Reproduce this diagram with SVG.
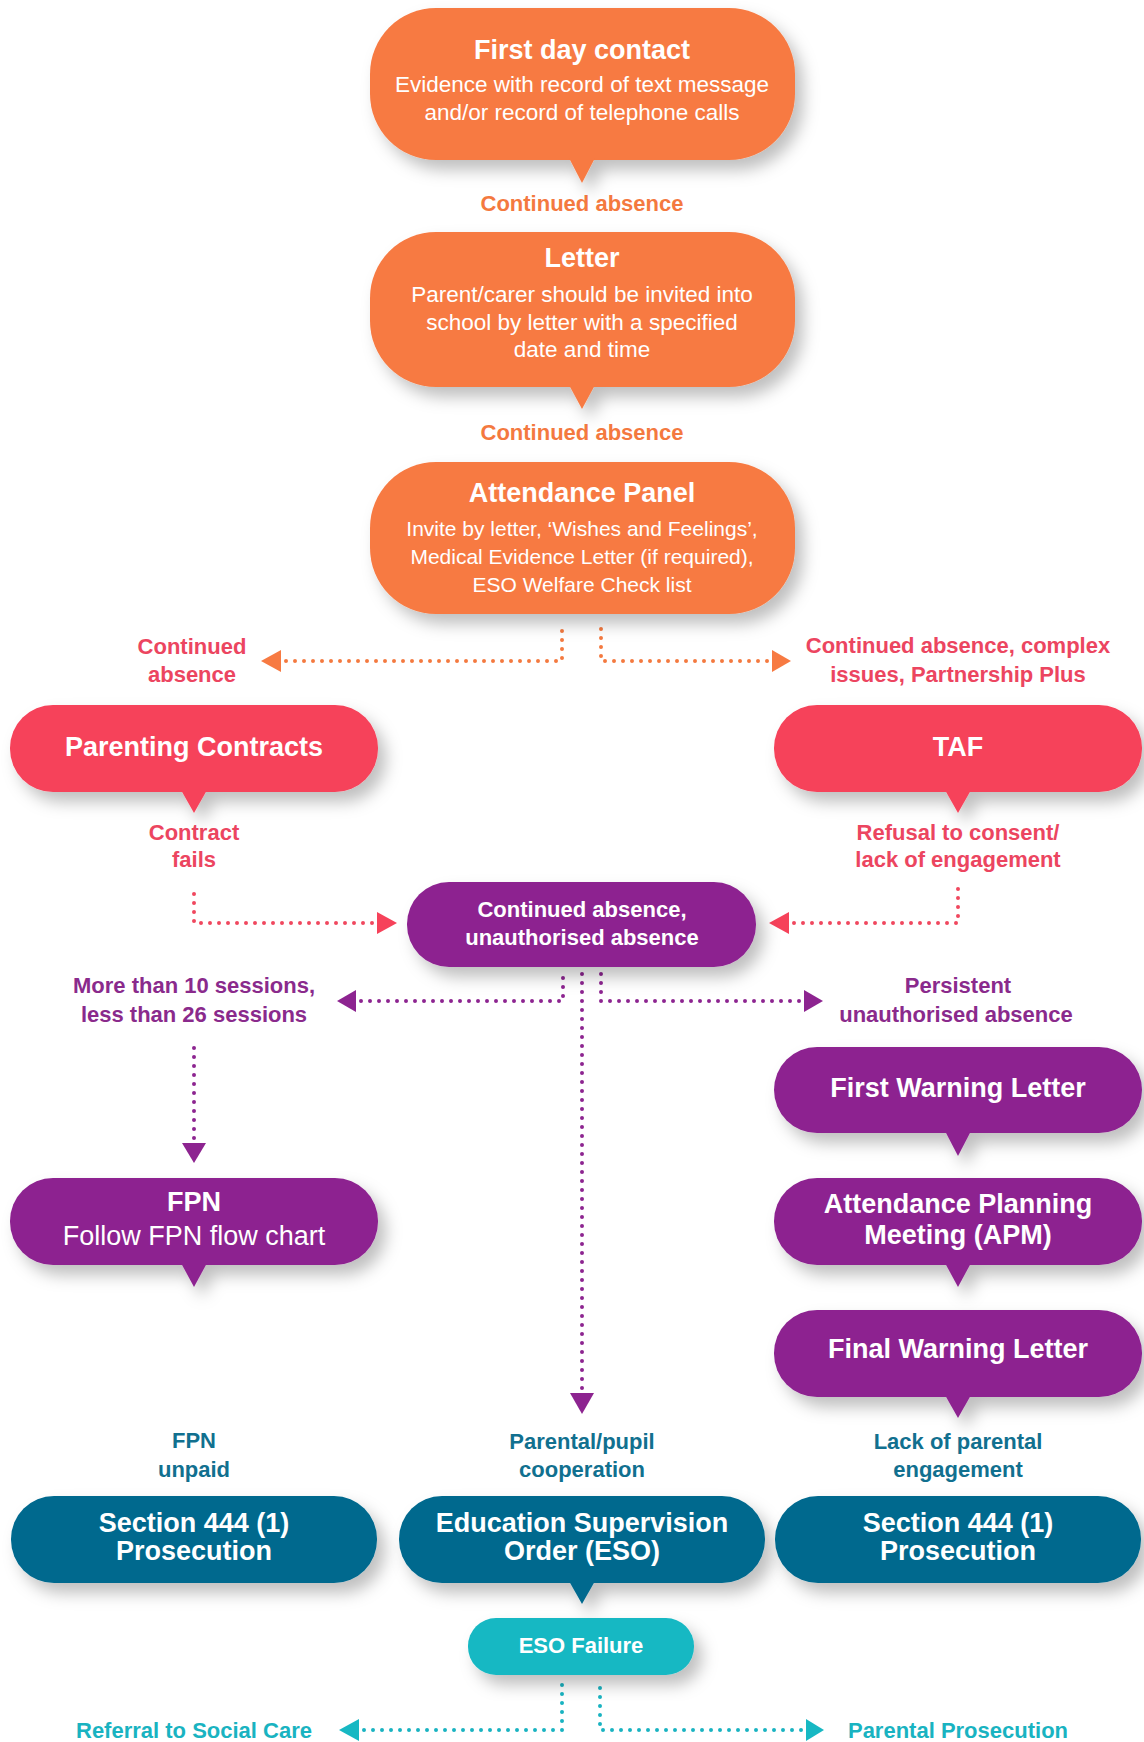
<svg xmlns="http://www.w3.org/2000/svg" width="1144" height="1742" viewBox="0 0 1144 1742">
<defs>
<filter id="sh" x="-10%" y="-25%" width="130%" height="170%">
<feDropShadow dx="8" dy="10" stdDeviation="8" flood-color="#000" flood-opacity="0.25"/>
</filter>
<style>
text{font-family:"Liberation Sans",Arial,sans-serif;text-anchor:middle}
.t{font-size:27px;font-weight:bold;fill:#fff}
.s{font-size:22.5px;fill:#fff}
.s2{font-size:21px;fill:#fff}
.m{font-size:22px;font-weight:bold;fill:#fff}
.lab{font-size:22px;font-weight:bold}
.or{fill:#F77A42}.rd{fill:#F6425A}.pu{fill:#8D2490}.dt{fill:#05698E}.lt{fill:#17B8C3}
.lor{fill:#F4793F}.lrd{fill:#EC4560}.lpu{fill:#8A2A8C}.ldt{fill:#11708F}.llt{fill:#19B3C1}
.d{fill:none;stroke-width:4;stroke-linecap:round;stroke-dasharray:0 9}
.dor{stroke:#F4793F}.drd{stroke:#F0475E}.dpu{stroke:#8D2490}.dlt{stroke:#19B3C1}
</style>
</defs>
<rect width="1144" height="1742" fill="#fff"/>

<g id="connectors">
<path class="d dor" d="M286 661 H562 V622"/>
<path class="d dor" d="M767 661 H601 V622"/>
<polygon class="or" points="261,661 281,650 281,672"/>
<polygon class="or" points="791,661 772,650 772,672"/>
<path class="d drd" d="M372 923 H194 V888"/>
<polygon class="rd" points="397,923 377,912 377,934"/>
<path class="d drd" d="M794 923 H958 V888"/>
<polygon class="rd" points="769,923 789,912 789,934"/>
<path class="d dpu" d="M361 1001 H563 V973"/>
<polygon class="pu" points="337,1001 356,990 356,1012"/>
<path class="d dpu" d="M799 1001 H601 V973"/>
<polygon class="pu" points="823,1001 804,990 804,1012"/>
<path class="d dpu" d="M582 1388 V973"/>
<polygon class="pu" points="582,1414 570,1393 594,1393"/>
<path class="d dpu" d="M194 1138 V1041"/>
<polygon class="pu" points="194,1163 182,1143 206,1143"/>
<path class="d dlt" d="M364 1730 H562 V1684"/>
<polygon class="lt" points="339,1730 359,1719 359,1741"/>
<path class="d dlt" d="M801 1730 H600 V1684"/>
<polygon class="lt" points="824,1730 806,1719 806,1741"/>
</g>

<g id="labels">
<text class="lab lor" x="582" y="211">Continued absence</text>
<text class="lab lor" x="582" y="440">Continued absence</text>
<text class="lab lrd" x="192" y="654">Continued</text>
<text class="lab lrd" x="192" y="682">absence</text>
<text class="lab lrd" x="958" y="653">Continued absence, complex</text>
<text class="lab lrd" x="958" y="682">issues, Partnership Plus</text>
<text class="lab lrd" x="194" y="840">Contract</text>
<text class="lab lrd" x="194" y="867">fails</text>
<text class="lab lrd" x="958" y="840">Refusal to consent/</text>
<text class="lab lrd" x="958" y="867">lack of engagement</text>
<text class="lab lpu" x="194" y="993">More than 10 sessions,</text>
<text class="lab lpu" x="194" y="1022">less than 26 sessions</text>
<text class="lab lpu" x="958" y="993">Persistent</text>
<text class="lab lpu" x="956" y="1022">unauthorised absence</text>
<text class="lab ldt" x="194" y="1448">FPN</text>
<text class="lab ldt" x="194" y="1477">unpaid</text>
<text class="lab ldt" x="582" y="1449">Parental/pupil</text>
<text class="lab ldt" x="582" y="1477">cooperation</text>
<text class="lab ldt" x="958" y="1449">Lack of parental</text>
<text class="lab ldt" x="958" y="1477">engagement</text>
<text class="lab llt" x="194" y="1738">Referral to Social Care</text>
<text class="lab llt" x="958" y="1738">Parental Prosecution</text>
</g>

<g id="first-day-contact">
<g filter="url(#sh)" class="or"><rect x="370" y="8" width="425" height="152" rx="66"/><polygon points="569,158 595,158 582,183"/></g>
<text class="t" x="582" y="59">First day contact</text>
<text class="s" x="582" y="92">Evidence with record of text message</text>
<text class="s" x="582" y="120">and/or record of telephone calls</text>
</g>

<g id="letter">
<g filter="url(#sh)" class="or"><rect x="370" y="232" width="425" height="155" rx="66"/><polygon points="569,385 595,385 582,409"/></g>
<text class="t" x="582" y="267">Letter</text>
<text class="s" x="582" y="302">Parent/carer should be invited into</text>
<text class="s" x="582" y="330">school by letter with a specified</text>
<text class="s" x="582" y="357">date and time</text>
</g>

<g id="attendance-panel">
<g filter="url(#sh)" class="or"><rect x="370" y="462" width="425" height="152" rx="66"/></g>
<text class="t" x="582" y="502">Attendance Panel</text>
<text class="s2" x="582" y="536">Invite by letter, ‘Wishes and Feelings’,</text>
<text class="s2" x="582" y="564">Medical Evidence Letter (if required),</text>
<text class="s2" x="582" y="592">ESO Welfare Check list</text>
</g>

<g id="parenting-contracts">
<g filter="url(#sh)" class="rd"><rect x="10" y="705" width="368" height="87" rx="43"/><polygon points="181,790 207,790 194,813"/></g>
<text class="t" x="194" y="756">Parenting Contracts</text>
</g>

<g id="taf">
<g filter="url(#sh)" class="rd"><rect x="774" y="705" width="368" height="87" rx="43"/><polygon points="945,790 971,790 958,813"/></g>
<text class="t" x="958" y="756">TAF</text>
</g>

<g id="continued-unauthorised">
<g filter="url(#sh)" class="pu"><rect x="407" y="882" width="349" height="85" rx="42"/></g>
<text class="m" x="582" y="917">Continued absence,</text>
<text class="m" x="582" y="945">unauthorised absence</text>
</g>

<g id="first-warning-letter">
<g filter="url(#sh)" class="pu"><rect x="774" y="1047" width="368" height="86" rx="43"/><polygon points="945,1131 971,1131 958,1156"/></g>
<text class="t" x="958" y="1097">First Warning Letter</text>
</g>

<g id="fpn">
<g filter="url(#sh)" class="pu"><rect x="10" y="1178" width="368" height="87" rx="43"/><polygon points="181,1263 207,1263 194,1287"/></g>
<text class="t" x="194" y="1211">FPN</text>
<text x="194" y="1245" style="font-size:27px;fill:#fff">Follow FPN flow chart</text>
</g>

<g id="apm">
<g filter="url(#sh)" class="pu"><rect x="774" y="1178" width="368" height="87" rx="43"/><polygon points="945,1263 971,1263 958,1287"/></g>
<text class="t" x="958" y="1213">Attendance Planning</text>
<text class="t" x="958" y="1244">Meeting (APM)</text>
</g>

<g id="final-warning-letter">
<g filter="url(#sh)" class="pu"><rect x="774" y="1310" width="368" height="87" rx="43"/><polygon points="945,1395 971,1395 958,1418"/></g>
<text class="t" x="958" y="1358">Final Warning Letter</text>
</g>

<g id="section-444-left">
<g filter="url(#sh)" class="dt"><rect x="11" y="1496" width="366" height="87" rx="43"/></g>
<text class="t" x="194" y="1532">Section 444 (1)</text>
<text class="t" x="194" y="1560">Prosecution</text>
</g>

<g id="eso">
<g filter="url(#sh)" class="dt"><rect x="399" y="1496" width="366" height="87" rx="43"/><polygon points="569,1581 595,1581 582,1604"/></g>
<text class="t" x="582" y="1532">Education Supervision</text>
<text class="t" x="582" y="1560">Order (ESO)</text>
</g>

<g id="section-444-right">
<g filter="url(#sh)" class="dt"><rect x="775" y="1496" width="366" height="87" rx="43"/></g>
<text class="t" x="958" y="1532">Section 444 (1)</text>
<text class="t" x="958" y="1560">Prosecution</text>
</g>

<g id="eso-failure">
<g filter="url(#sh)" class="lt"><rect x="468" y="1618" width="226" height="57" rx="28"/></g>
<text class="m" x="581" y="1653">ESO Failure</text>
</g>
</svg>
